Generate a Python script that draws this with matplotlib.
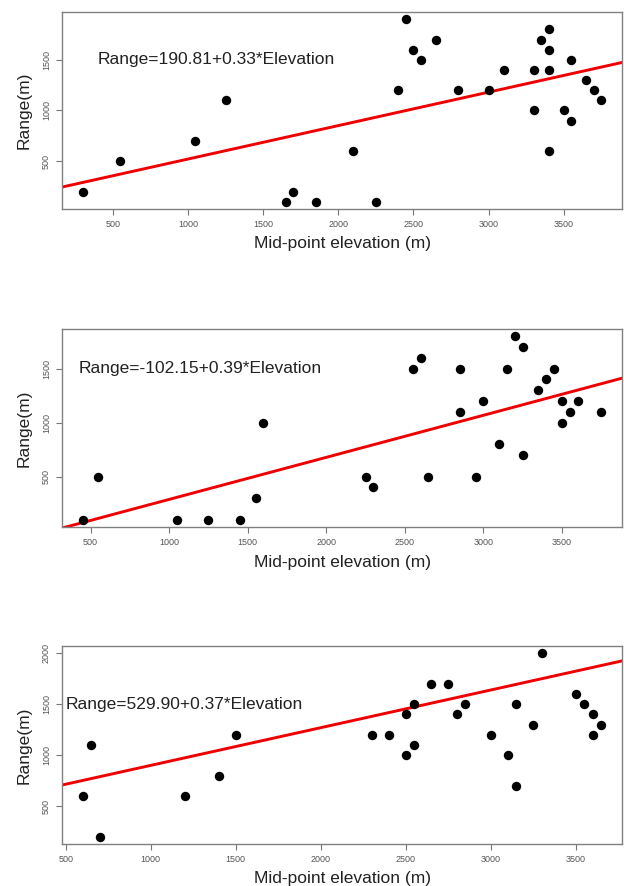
import matplotlib
matplotlib.use("Agg")
import matplotlib.pyplot as plt
from matplotlib.ticker import MultipleLocator
import numpy as np

plt.rcParams['font.family'] = ['Liberation Sans', 'DejaVu Sans']

# panel 1
elev1 = [300, 550, 1050, 1250, 1650, 1700, 1850, 2100, 2250, 2400, 2450, 2500, 2550, 2650,
         2800, 3000, 3100, 3300, 3300, 3350, 3400, 3400, 3400, 3400, 3500, 3550, 3550,
         3650, 3700, 3750]
range1 = [200, 500, 700, 1100, 100, 200, 100, 600, 100, 1200, 1900, 1600, 1500, 1700,
          1200, 1200, 1400, 1400, 1000, 1700, 1800, 1600, 1400, 600, 1000, 1500, 900,
          1300, 1200, 1100]

# panel 2
elev2 = [450, 550, 1050, 1250, 1450, 1550, 1600, 2250, 2300, 2550, 2600, 2650, 2850, 2850,
         2950, 3000, 3100, 3150, 3200, 3250, 3250, 3350, 3400, 3450, 3500, 3500, 3550,
         3600, 3750]
range2 = [100, 500, 100, 100, 100, 300, 1000, 500, 400, 1500, 1600, 500, 1500, 1100,
          500, 1200, 800, 1500, 1800, 1700, 700, 1300, 1400, 1500, 1200, 1000, 1100,
          1200, 1100]

# panel 3
elev3 = [600, 650, 700, 1200, 1400, 1500, 2300, 2400, 2500, 2500, 2550, 2550, 2650, 2750,
         2800, 2850, 3000, 3100, 3150, 3150, 3250, 3300, 3500, 3550, 3600, 3600, 3650]
range3 = [600, 1100, 200, 600, 800, 1200, 1200, 1200, 1400, 1000, 1500, 1100, 1700, 1700,
          1400, 1500, 1200, 1000, 1500, 700, 1300, 2000, 1600, 1500, 1400, 1200, 1300]

intercepts = [190.81, -102.15, 529.90]
slopes = [0.33, 0.39, 0.37]
labels = ["Range=190.81+0.33*Elevation", "Range=-102.15+0.39*Elevation",
          "Range=529.90+0.37*Elevation"]

panels = [(elev1, range1), (elev2, range2), (elev3, range3)]
# axes boxes in pixels: top, bottom
boxes = [(12, 209), (329, 527), (646, 844)]
text_x = [400, 425, 500]

W, H = 624, 886
fig = plt.figure(figsize=(W / 100, H / 100), dpi=100)

for i, (x, y) in enumerate(panels):
    top, bot = boxes[i]
    ax = fig.add_axes([62 / W, 1 - bot / H, 560 / W, (bot - top) / H])
    x = np.array(x)
    y = np.array(y)
    ax.scatter(x, y, s=46, color='black', zorder=3, linewidths=0)

    # R style axis extension of 4%
    dx = (x.max() - x.min()) * 0.04
    dy = (y.max() - y.min()) * 0.04
    ax.set_xlim(x.min() - dx, x.max() + dx)
    ax.set_ylim(y.min() - dy, y.max() + dy)

    xs = np.array(ax.get_xlim())
    ax.plot(xs, intercepts[i] + slopes[i] * xs, color='#ee0000', lw=2.1, zorder=2)

    ax.text(text_x[i], 1500, labels[i], fontsize=12.5, color='#222222',
            ha='left', va='center')

    ax.xaxis.set_major_locator(MultipleLocator(500))
    ax.yaxis.set_major_locator(MultipleLocator(500))
    ax.tick_params(direction='out', length=4, width=0.8, color='#777777',
                   labelcolor='#555555', labelsize=6.5, pad=4)
    for lab in ax.get_yticklabels():
        lab.set_rotation(90)
        lab.set_va('center')
    for sp in ax.spines.values():
        sp.set_color('#808080')
        sp.set_linewidth(1.0)

    ax.set_xlabel("Mid-point elevation (m)", fontsize=12.5, color='#222222')
    ax.set_ylabel("Range(m)", fontsize=12.5, color='#222222')
    ax.xaxis.label.set_va('center')
    ax.yaxis.label.set_va('center')
    ax.xaxis.set_label_coords(0.5, -35 / (bot - top))
    ax.yaxis.set_label_coords(-38 / 560, 0.5)

fig.savefig("out.png", dpi=100)
